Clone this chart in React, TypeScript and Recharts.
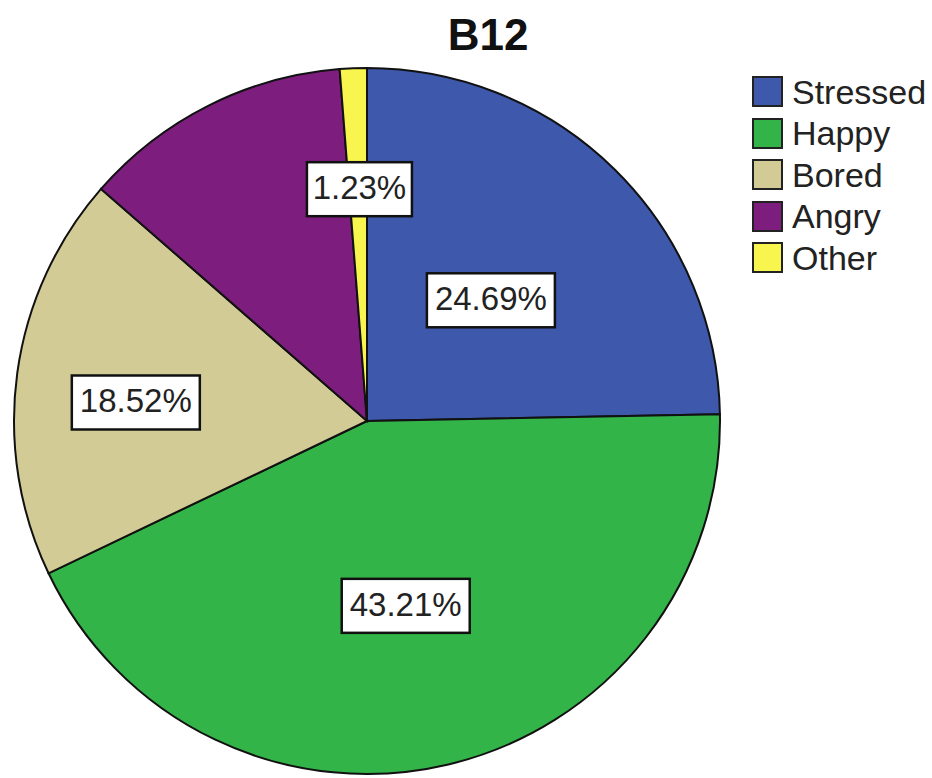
import React from "react";
import { PieChart, Pie, Cell, Legend } from "recharts";

const categories = ["Stressed", "Happy", "Bored", "Angry", "Other"];
const counts = [20, 35, 15, 10, 1];
const colors = ["#3E58AC", "#33B449", "#D3CB96", "#7D1E7F", "#F8F54E"];
const showLabel = [true, true, true, false, true];
const title = "B12";

// label placement (layout settings)
const LABEL_R = [0.49, 0.535, 0.657, 0, 0.657];
const LABEL_ANG = [-1.3, -1.5, 3.2, 0, -0.35];

const data = categories.map((name, i) => ({ name, value: counts[i] }));
const FONT = "Arial, 'Liberation Sans', Helvetica, sans-serif";
const RAD = Math.PI / 180;

const renderLabel = (props: any) => {
  const { cx, cy, midAngle, outerRadius, percent, index } = props;
  if (!showLabel[index]) return null;
  const r = outerRadius * LABEL_R[index];
  const a = (midAngle + LABEL_ANG[index]) * RAD;
  const x = cx + r * Math.cos(a);
  const y = cy - r * Math.sin(a);
  const text = (percent * 100).toFixed(2) + "%";
  const w = 23 * text.length - 10;
  const h = 54;
  return (
    <g key={"lbl" + index}>
      <rect x={x - w / 2} y={y - h / 2} width={w} height={h} fill="#ffffff" stroke="#111" strokeWidth={2.5} />
      <text x={x} y={y + 1} textAnchor="middle" dominantBaseline="middle" fontFamily={FONT} fontSize={33} fill="#222">
        {text}
      </text>
    </g>
  );
};

const renderLegend = () => (
  <div style={{ fontFamily: FONT }}>
    {data.map((d, i) => (
      <div key={d.name} style={{ display: "flex", alignItems: "center", height: 41.5 }}>
        <div style={{ width: 27, height: 27, background: colors[i], border: "2px solid #222", marginRight: 9 }} />
        <span style={{ fontSize: 34, color: "#222", lineHeight: "34px" }}>{d.name}</span>
      </div>
    ))}
  </div>
);

export default function App() {
  return (
    <div style={{ position: "absolute", left: 0, top: 0, width: 932, height: 778, background: "#fff", overflow: "hidden" }}>
      <PieChart width={932} height={778} margin={{ top: 0, right: 0, bottom: 0, left: 0 }}>
        <text x={488} y={50} textAnchor="middle" fontFamily={FONT} fontWeight="bold" fontSize={44} fill="#111">
          {title}
        </text>
        <Pie
          data={data}
          dataKey="value"
          nameKey="name"
          cx={367}
          cy={421}
          outerRadius={353}
          startAngle={90}
          endAngle={-270}
          stroke="#111"
          strokeWidth={2}
          label={renderLabel}
          labelLine={false}
          isAnimationActive={false}
        >
          {data.map((d, i) => (
            <Cell key={d.name} fill={colors[i]} />
          ))}
        </Pie>
        <Legend
          content={renderLegend}
          wrapperStyle={{ position: "absolute", left: 752, top: 71, width: 180, bottom: "auto", right: "auto" }}
        />
      </PieChart>
    </div>
  );
}
